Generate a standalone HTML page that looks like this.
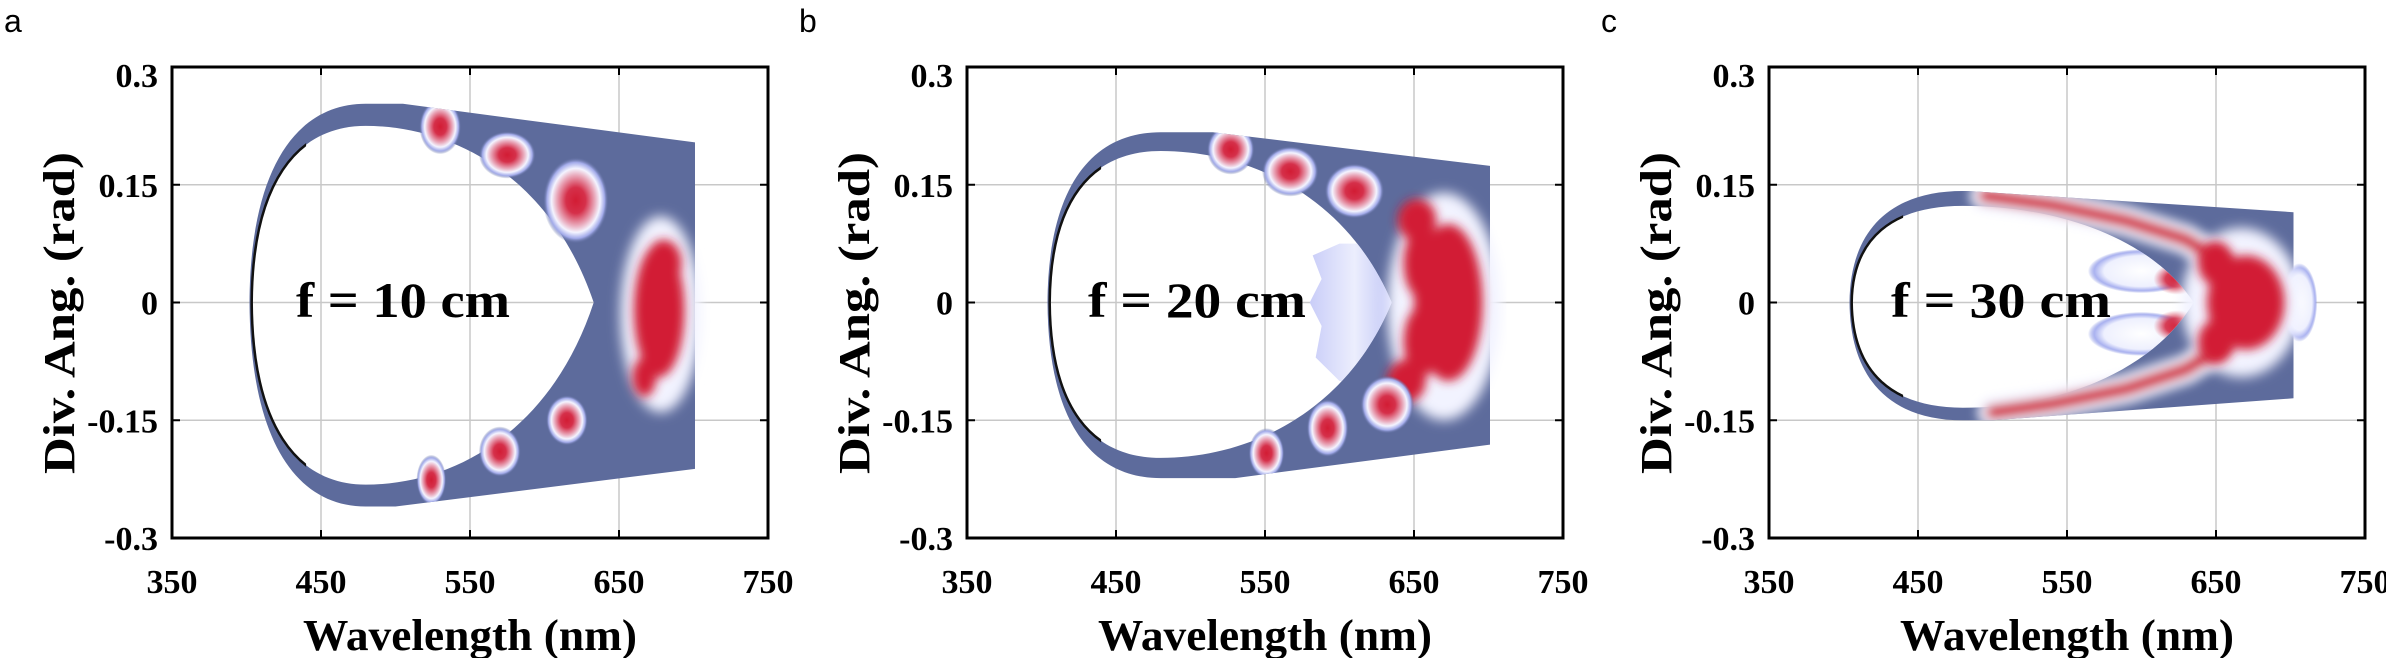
<!DOCTYPE html>
<html><head><meta charset="utf-8">
<style>
html,body{margin:0;padding:0;background:#fff;}
svg{display:block;}
</style></head>
<body>
<svg id="s" xmlns="http://www.w3.org/2000/svg" width="2386" height="658" viewBox="0 0 2386 658">
<defs>
<radialGradient id="g">
<stop offset="0" stop-color="#d21c34"/>
<stop offset="0.3" stop-color="#d5304a"/>
<stop offset="0.58" stop-color="#e9a9bb"/>
<stop offset="0.74" stop-color="#f4f4ff"/>
<stop offset="0.88" stop-color="#a3abea"/>
<stop offset="1" stop-color="#5d6b9c" stop-opacity="0"/>
</radialGradient>
<radialGradient id="r">
<stop offset="0" stop-color="#d21c34"/>
<stop offset="0.5" stop-color="#d42a43" stop-opacity="0.9"/>
<stop offset="1" stop-color="#d84a62" stop-opacity="0"/>
</radialGradient>
<radialGradient id="w">
<stop offset="0" stop-color="#ffffff"/>
<stop offset="0.7" stop-color="#eef0fe"/>
<stop offset="0.88" stop-color="#aab2f0"/>
<stop offset="1" stop-color="#7f8be0" stop-opacity="0"/>
</radialGradient>
<linearGradient id="lb" x1="0" x2="1" y1="0" y2="0">
<stop offset="0" stop-color="#c9cdf8"/>
<stop offset="0.5" stop-color="#eceefd"/>
<stop offset="1" stop-color="#b8bef5"/>
</linearGradient>
<filter id="bl" x="-50%" y="-50%" width="200%" height="200%"><feGaussianBlur stdDeviation="6"/></filter>
<filter id="bl2" x="-50%" y="-50%" width="200%" height="200%"><feGaussianBlur stdDeviation="5"/></filter>
</defs>
</svg>
<script>
const s=document.getElementById('s');
let out='';
const T=67,B=538;
function Y(t){return T+(0.3-t)*(B-T)/0.6;}
function mk(L){return l=>L+(l-350)*596/400;}
function path(X,c){let d='';for(const e of c){if(e==='Z'){d+='Z';continue;}d+=e[0];for(let i=1;i<e.length;i++){d+=' '+X(e[i][0]).toFixed(1)+','+Y(e[i][1]).toFixed(1)+' ';}}return d;}
function ell(X,l,t,rx,ry,fill){return `<ellipse cx="${X(l).toFixed(1)}" cy="${Y(t).toFixed(1)}" rx="${(rx*1.49).toFixed(1)}" ry="${(ry*785).toFixed(1)}" fill="${fill}"/>`;}
function blob(X,l,t,rx,ry,id){return ell(X,l,t,rx,ry,`url(#${id||'g'})`);}
function shape(x0,topIn,botIn,kT,kB,tipX,topRight,botRight,rightX,flatT,flatB){
 const px=480;
 const inner=[['M',[x0,0]],['C',[x0+0.5,0.67*topIn],[433,topIn],[px,topIn]],['C',[540,topIn],[605,0.7*topIn],[tipX,0]],
  ['C',[605,0.7*botIn],[540,botIn],[px,botIn]],['C',[433,botIn],[x0+0.5,0.67*botIn],[x0,0]],'Z'];
 const ot=topIn*kT, ob=botIn*kB;
 const outer=[['M',[x0-1.5,0]],['C',[x0-1,0.67*ot],[433,ot],[px,ot]],['L',[flatT,ot]],['L',[rightX,topRight]],['L',[rightX,botRight]],['L',[flatB,ob]],['L',[px,ob]],['C',[433,ob],[x0-1,0.67*ob],[x0-1.5,0]],'Z'];
 return {inner,outer};
}
const RED='#d21c34';
const panels=[
{L:172,letter:'a',label:'f = 10 cm',tx:296,tw:214,
 sh:shape(403.5,0.225,-0.232,1.125,1.12,633,0.204,-0.212,701,505,500),
 blobs:[[530,0.224,14,0.035],[575,0.188,19,0.03],[621,0.13,22,0.055],[615,-0.15,14,0.032],[570,-0.19,14,0.032],[524,-0.226,10,0.032]],
 halo:[[678,-0.015,27,0.125]],
 mass:[[677,-0.01,17,0.085],[667,-0.095,8,0.025],[680,0.05,12,0.03]]},
{L:967,letter:'b',label:'f = 20 cm',tx:1088,tw:218,
 sh:shape(405.5,0.193,-0.198,1.124,1.13,635,0.174,-0.181,701,515,530),
 wedge:true,
 blobs:[[527,0.195,16,0.032],[567,0.167,19,0.032],[610,0.142,20,0.035],[632,-0.13,18,0.037],[592,-0.16,14,0.037],[551,-0.192,12,0.032]],
 halo:[[670,-0.005,38,0.145]],
 mass:[[673,0,23,0.1],[652,0.105,13,0.027],[645,-0.1,13,0.027],[655,0.05,12,0.045],[655,-0.05,12,0.045]]},
{L:1769,letter:'c',label:'f = 30 cm',tx:1891,tw:220,
 sh:shape(405.5,0.123,-0.134,1.155,1.12,635,0.115,-0.122,702,484,500),
 wedge2:true,
 blobs:[],
 halo:[[667,0,40,0.095]],
 mass:[[670,0,26,0.06],[650,0.05,12,0.028],[650,-0.05,12,0.028]],
 band:[[[495,0.136],[540,0.124],[590,0.104],[630,0.08],[655,0.05]],[[500,-0.14],[540,-0.129],[590,-0.11],[630,-0.085],[655,-0.055]]]}
];
panels.forEach((p,i)=>{
 const X=mk(p.L), R=p.L+596;
 for(const l of [450,550,650]) out+=`<line x1="${X(l)}" y1="${T}" x2="${X(l)}" y2="${B}" stroke="#c8c8c8" stroke-width="1.5"/>`;
 for(const t of [0.15,0,-0.15]) out+=`<line x1="${p.L}" y1="${Y(t)}" x2="${R}" y2="${Y(t)}" stroke="#c8c8c8" stroke-width="1.5"/>`;
 const od=path(X,p.sh.outer), id=path(X,p.sh.inner);
 out+=`<clipPath id="h${i}"><path d="${id}"/></clipPath>`;
 out+=`<clipPath id="e${i}"><path d="${od} ${id}" fill-rule="evenodd"/><rect x="${X(695)}" y="${Y(0.11)}" width="${X(712)-X(695)}" height="${Y(-0.11)-Y(0.11)}"/></clipPath>`;
 out+=`<path d="${od} ${id}" fill="#5d6b9c" fill-rule="evenodd"/>`;
 if(p.wedge){
  out+=`<g clip-path="url(#h${i})"><path d="M${X(582)},${Y(0.06)} L${X(600)},${Y(0.075)} L${X(640)},${Y(0.075)} L${X(640)},${Y(-0.1)} L${X(600)},${Y(-0.1)} L${X(584)},${Y(-0.07)} L${X(588)},${Y(-0.03)} L${X(580)},${Y(0)} L${X(588)},${Y(0.03)} Z" fill="url(#lb)"/></g>`;
 }
 if(p.wedge2){
  out+=`<g clip-path="url(#h${i})">`+blob(X,600,0.04,36,0.028,'w')+blob(X,600,-0.04,36,0.028,'w')+blob(X,624,0.03,16,0.02,'r')+blob(X,624,-0.03,16,0.02,'r')+`</g>`;
  out+=blob(X,706,0,12,0.05,'w');
 }
 out+=`<g clip-path="url(#e${i})">`;
 out+=`<g filter="url(#bl)">`;
 for(const b of p.halo) out+=ell(X,b[0],b[1],b[2],b[3],'#f2f3ff');
 out+=`</g>`;
 if(p.band){
  out+=`<g filter="url(#bl2)">`;
  for(const bd of p.band){
   const pts=bd.map(q=>X(q[0]).toFixed(1)+','+Y(q[1]).toFixed(1)).join(' ');
   out+=`<polyline points="${pts}" fill="none" stroke="#f2f3ff" stroke-width="30" stroke-linecap="round"/>`;
   out+=`<polyline points="${pts}" fill="none" stroke="${RED}" stroke-width="14" stroke-linecap="round"/>`;
  }
  out+=`</g>`;
 }
 out+=`<g filter="url(#bl2)">`;
 for(const b of p.mass) out+=ell(X,b[0],b[1],b[2],b[3],RED);
 out+=`</g>`;
 for(const b of p.blobs) out+=blob(X,b[0],b[1],b[2],b[3]);
 out+='</g>';
 out+=`<clipPath id="k${i}"><rect x="${X(395)}" y="0" width="${X(440)-X(395)}" height="658"/></clipPath>`;
 out+=`<path d="${id}" fill="none" stroke="#111" stroke-width="2.5" clip-path="url(#k${i})"/>`;
 out+=`<rect x="${p.L}" y="${T}" width="596" height="${B-T}" fill="none" stroke="#000" stroke-width="3"/>`;
 for(const l of [450,550,650]){out+=`<line x1="${X(l)}" y1="${B}" x2="${X(l)}" y2="${B-8}" stroke="#000" stroke-width="2"/><line x1="${X(l)}" y1="${T}" x2="${X(l)}" y2="${T+8}" stroke="#000" stroke-width="2"/>`;}
 for(const t of [0.15,0,-0.15]){out+=`<line x1="${p.L}" y1="${Y(t)}" x2="${p.L+8}" y2="${Y(t)}" stroke="#000" stroke-width="2"/><line x1="${R}" y1="${Y(t)}" x2="${R-8}" y2="${Y(t)}" stroke="#000" stroke-width="2"/>`;}
 const F='font-family="Liberation Serif, serif" font-weight="bold"';
 const ylab=[[0.3,'0.3'],[0.15,'0.15'],[0,'0'],[-0.15,'-0.15'],[-0.3,'-0.3']];
 for(const [t,s1] of ylab){let yy=Y(t)+12; if(t===0.3) yy=Y(t)+20;
  out+=`<text x="${p.L-14}" y="${yy}" ${F} font-size="34" text-anchor="end">${s1}</text>`;}
 for(const l of [350,450,550,650,750]){out+=`<text x="${X(l)}" y="593" ${F} font-size="34" text-anchor="middle">${l}</text>`;}
 out+=`<text x="${p.L+298}" y="650" ${F} font-size="44" text-anchor="middle" textLength="334" lengthAdjust="spacingAndGlyphs">Wavelength (nm)</text>`;
 out+=`<text transform="translate(${p.L-113},313) rotate(-90)" ${F} font-size="44" text-anchor="middle" textLength="322" lengthAdjust="spacingAndGlyphs" y="15">Div. Ang. (rad)</text>`;
 out+=`<text x="${p.tx}" y="317" ${F} font-size="50" textLength="${p.tw}" lengthAdjust="spacingAndGlyphs">${p.label}</text>`;
 out+=`<text x="${p.L-168}" y="32" font-family="Liberation Sans, sans-serif" font-size="32">${p.letter}</text>`;
});
s.insertAdjacentHTML('beforeend',out);
</script>
</body></html>
